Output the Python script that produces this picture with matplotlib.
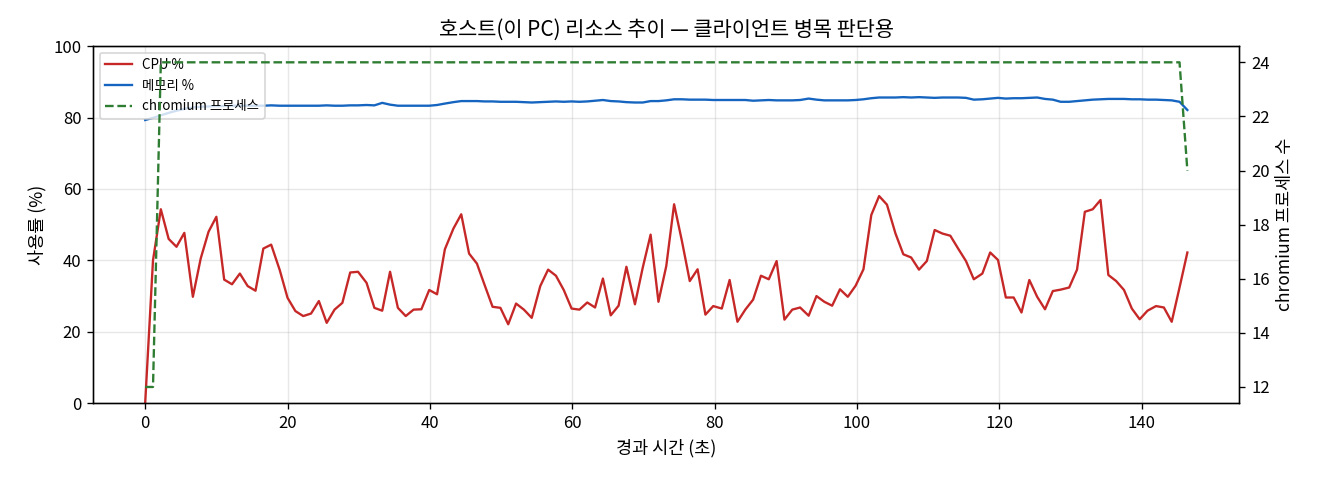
import matplotlib
matplotlib.use("Agg")
import matplotlib.pyplot as plt

plt.rcParams['font.family'] = ['Noto Sans CJK KR', 'DejaVu Sans']
plt.rcParams['axes.unicode_minus'] = False

# 경과 시간 (초), 약 1.1초 간격 샘플
elapsed = [0.0, 1.1, 2.2, 3.3, 4.4, 5.5, 6.7, 7.8, 8.9, 10.0,
           11.1, 12.2, 13.3, 14.4, 15.5, 16.6, 17.7, 18.9, 20.0, 21.1,
           22.2, 23.3, 24.4, 25.5, 26.6, 27.7, 28.8, 29.9, 31.1, 32.2,
           33.3, 34.4, 35.5, 36.6, 37.7, 38.8, 39.9, 41.0, 42.1, 43.3,
           44.4, 45.5, 46.6, 47.7, 48.8, 49.9, 51.0, 52.1, 53.2, 54.3,
           55.5, 56.6, 57.7, 58.8, 59.9, 61.0, 62.1, 63.2, 64.3, 65.4,
           66.5, 67.6, 68.8, 69.9, 71.0, 72.1, 73.2, 74.3, 75.4, 76.5,
           77.6, 78.7, 79.8, 81.0, 82.1, 83.2, 84.3, 85.4, 86.5, 87.6,
           88.7, 89.8, 90.9, 92.0, 93.2, 94.3, 95.4, 96.5, 97.6, 98.7,
           99.8, 100.9, 102.0, 103.1, 104.2, 105.4, 106.5, 107.6, 108.7, 109.8,
           110.9, 112.0, 113.1, 114.2, 115.3, 116.4, 117.6, 118.7, 119.8, 120.9,
           122.0, 123.1, 124.2, 125.3, 126.4, 127.5, 128.6, 129.8, 130.9, 132.0,
           133.1, 134.2, 135.3, 136.4, 137.5, 138.6, 139.7, 140.8, 142.0, 143.1,
           144.2, 145.3, 146.4]

cpu = [0, 40, 54.3, 46, 43.8, 47.7, 29.8, 40.5, 48, 52.2,
       34.6, 33.3, 36.3, 32.8, 31.5, 43.3, 44.4, 37.3, 29.5, 25.8,
       24.4, 25.1, 28.6, 22.5, 26.2, 28.1, 36.6, 36.8, 33.7, 26.7,
       25.9, 36.8, 26.7, 24.4, 26.2, 26.3, 31.7, 30.5, 43.1, 48.9,
       52.9, 41.9, 39.1, 33, 27,
       26.7, 22.1, 27.9, 26.2, 23.9, 32.8, 37.4, 35.7, 31.7, 26.5,
       26.2, 28.2, 26.8, 34.9, 24.6, 27.3, 38.2, 27.7, 38, 47.2,
       28.4, 38.4, 55.7, 45.4, 34.2, 37.5, 24.8, 27.2, 26.5, 34.5,
       22.8, 26.2, 29, 35.7, 34.7, 39.8, 23.4, 26.2, 26.8, 24.5,
       30, 28.4, 27.3, 31.9, 29.8, 32.9, 37.5, 52.7, 58,
       55.6, 47.5, 41.7, 40.8, 37.4, 39.8, 48.5, 47.5, 46.9, 43.3,
       39.8, 34.7, 36.3, 42.2, 40.1, 29.6, 29.6, 25.4, 34.5, 29.8,
       26.3, 31.4, 31.8, 32.4, 37.4, 53.6, 54.3, 56.9, 35.9, 34.2,
       31.7, 26.5, 23.5, 25.9, 27.2, 26.8, 22.8, 32.4, 42.2]

mem = [79.3, 79.9, 80.6, 81.3, 81.9, 82.4, 82.8, 83.0, 83.1, 83.2,
       83.2, 83.3, 83.3, 83.3, 83.3, 83.3, 83.4, 83.3, 83.3, 83.3,
       83.3, 83.3, 83.3, 83.4, 83.3, 83.3, 83.4, 83.4, 83.5, 83.4,
       84.1, 83.6, 83.3, 83.3, 83.3, 83.3, 83.3, 83.5, 83.9, 84.3,
       84.6, 84.6, 84.6, 84.5, 84.5, 84.4, 84.4, 84.4, 84.3, 84.2,
       84.3, 84.4, 84.5, 84.4, 84.5, 84.4, 84.5, 84.7, 84.9, 84.6,
       84.5, 84.3, 84.2, 84.2, 84.6, 84.6, 84.8, 85.1, 85.1, 85.0,
       85.0, 85.0, 84.9, 84.9, 84.9, 84.9, 84.9, 84.7, 84.8, 84.9,
       84.8, 84.8, 84.8, 84.9, 85.3, 85.0, 84.8, 84.8, 84.8, 84.8,
       84.9, 85.1, 85.4, 85.6, 85.6, 85.6, 85.7, 85.6, 85.7, 85.6,
       85.5, 85.6, 85.6, 85.6, 85.5, 85.0, 85.1, 85.3, 85.5, 85.3,
       85.4, 85.4, 85.5, 85.6, 85.2, 85.0, 84.4, 84.4, 84.6, 84.8,
       85.0, 85.1, 85.2, 85.2, 85.2, 85.1, 85.1, 85.0, 85.0, 84.9,
       84.8, 84.4, 82.1]

procs = [12, 12] + [24] * 130 + [20]

fig, ax = plt.subplots(figsize=(11, 4), dpi=120)
fig.subplots_adjust(left=0.0705, right=0.939, top=0.904, bottom=0.160)

l1, = ax.plot(elapsed, cpu, color='#c62828', lw=1.4, label='CPU %')
l2, = ax.plot(elapsed, mem, color='#1565c0', lw=1.4, label='메모리 %')
ax.set_ylim(0, 100)
ax.set_xlabel('경과 시간 (초)', fontsize=10.5)
ax.set_ylabel('사용률 (%)', fontsize=10.5)
ax.grid(True, alpha=0.3)

ax2 = ax.twinx()
l3, = ax2.plot(elapsed, procs, color='#2e7d32', lw=1.4, ls='--', label='chromium 프로세스')
ax2.set_ylabel('chromium 프로세스 수', fontsize=10.5)

ax.set_title('호스트(이 PC) 리소스 추이 — 클라이언트 병목 판단용', fontsize=12.5)
ax.legend(handles=[l1, l2, l3], loc='upper left', fontsize=8)

fig.savefig('out.png')
